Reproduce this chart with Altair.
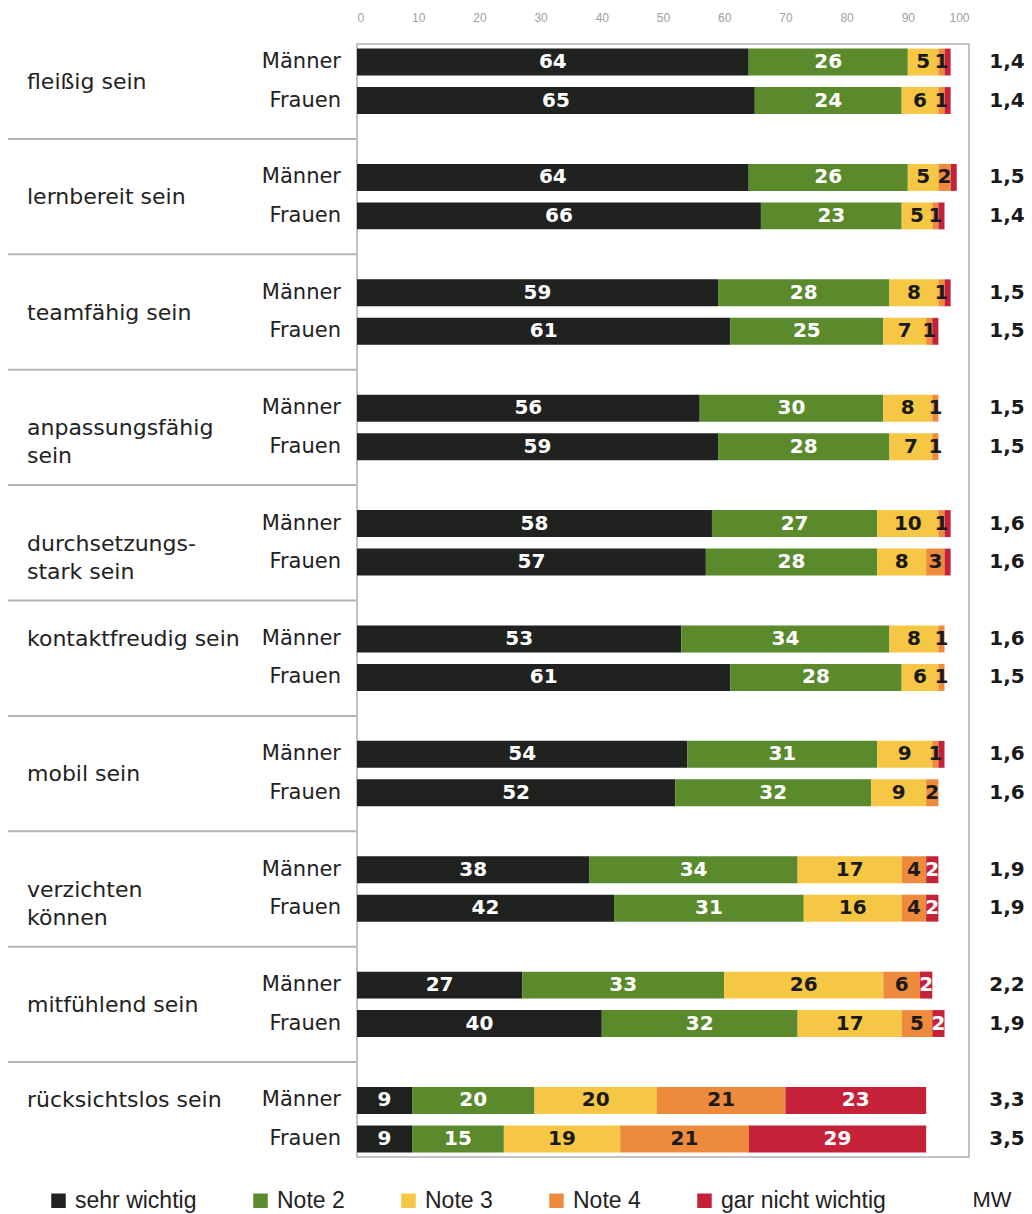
import altair as alt
import pandas as pd

# ---------------- data ----------------
groups = ["fleißig sein", "lernbereit sein", "teamfähig sein", "anpassungsfähig sein",
          "durchsetzungsstark sein", "kontaktfreudig sein", "mobil sein",
          "verzichten können", "mitfühlend sein", "rücksichtslos sein"]
group_labels = ["fleißig sein", "lernbereit sein", "teamfähig sein", "anpassungsfähig\nsein",
                "durchsetzungs-\nstark sein", "kontaktfreudig sein", "mobil sein",
                "verzichten\nkönnen", "mitfühlend sein", "rücksichtslos sein"]
labels_on_maenner_row = ["kontaktfreudig sein", "rücksichtslos sein"]
sexes = ["Männer", "Frauen"]
cats = ["sehr wichtig", "Note 2", "Note 3", "Note 4", "gar nicht wichtig"]
tick_values = [0, 10, 20, 30, 40, 50, 60, 70, 80, 90, 100]

m_sehr = [64, 64, 59, 56, 58, 53, 54, 38, 27, 9]
m_note2 = [26, 26, 28, 30, 27, 34, 31, 34, 33, 20]
m_note3 = [5, 5, 8, 8, 10, 8, 9, 17, 26, 20]
m_note4 = [1, 2, 1, 1, 1, 1, 1, 4, 6, 21]
m_gar = [1, 1, 1, 0, 1, 0, 1, 2, 2, 23]

f_sehr = [65, 66, 61, 59, 57, 61, 52, 42, 40, 9]
f_note2 = [24, 23, 25, 28, 28, 28, 32, 31, 32, 15]
f_note3 = [6, 5, 7, 7, 8, 6, 9, 16, 17, 19]
f_note4 = [1, 1, 1, 1, 3, 1, 2, 4, 5, 21]
f_gar = [1, 1, 1, 0, 1, 0, 0, 2, 2, 29]

mw_m = ["1,4", "1,5", "1,5", "1,5", "1,6", "1,6", "1,6", "1,9", "2,2", "3,3"]
mw_f = ["1,4", "1,4", "1,5", "1,5", "1,6", "1,5", "1,6", "1,9", "1,9", "3,5"]

# ---------------- styles ----------------
colors = ["#1f221f", "#5a8a2c", "#f6c744", "#ee8a3c", "#c5223a"]
label_colors = ["#ffffff", "#ffffff", "#1a1a1a", "#1a1a1a", "#ffffff"]
W, H = 612, 1113

series = {"Männer": [m_sehr, m_note2, m_note3, m_note4, m_gar],
          "Frauen": [f_sehr, f_note2, f_note3, f_note4, f_gar]}
mw = {"Männer": mw_m, "Frauen": mw_f}

row_domain = []
for i in range(len(groups)):
    row_domain += [f"{i}|Männer", f"{i}|Frauen"]
    if i < len(groups) - 1:
        row_domain.append(f"{i}|gap")

bar_rows, sex_rows, mw_rows = [], [], []
for i, g in enumerate(groups):
    for s in sexes:
        key = f"{i}|{s}"
        sex_rows.append({"key": key, "sex": s})
        mw_rows.append({"key": key, "mw": mw[s][i]})
        for c, cat in enumerate(cats):
            v = series[s][c][i]
            bar_rows.append({"key": key, "group": g, "sex": s, "cat": cat, "order": c,
                             "value": v, "lc": label_colors[c],
                             "show": bool(v > 0 and not (cat == "gar nicht wichtig" and v < 2))})
bars_df = pd.DataFrame(bar_rows)
sex_df = pd.DataFrame(sex_rows)
mw_df = pd.DataFrame(mw_rows)
cat_center_df = pd.DataFrame([{"key": f"{i}|Männer", "label": group_labels[i]}
                              for i, g in enumerate(groups) if g not in labels_on_maenner_row])
cat_top_df = pd.DataFrame([{"key": f"{i}|Männer", "label": group_labels[i]}
                           for i, g in enumerate(groups) if g in labels_on_maenner_row])
sep_df = pd.DataFrame({"key": [k for k in row_domain if k.endswith("gap")]})

xscale = alt.Scale(domain=[0, 100], nice=False, zero=True)
yscale = alt.Scale(domain=row_domain, paddingInner=0.3, paddingOuter=0.12)
Y = alt.Y("key:N", scale=yscale, axis=None)
xaxis = alt.Axis(orient="top", values=tick_values, ticks=False, domain=False,
                 grid=False, title=None, labelColor="#a0a0a0", labelFontSize=12,
                 labelFont="Liberation Sans", labelPadding=20)

bars = alt.Chart(bars_df).mark_bar().encode(
    x=alt.X("value:Q", stack="zero", scale=xscale, axis=xaxis),
    y=Y,
    color=alt.Color("cat:N", scale=alt.Scale(domain=cats, range=colors),
                    legend=alt.Legend(orient="none", legendX=-310, legendY=1145,
                                      direction="horizontal", title=None, symbolType="square",
                                      symbolSize=210, symbolStrokeWidth=0, labelFontSize=23,
                                      labelFont="Liberation Sans", labelColor="#222222",
                                      labelLimit=400, columnPadding=52, labelOffset=5)),
    order=alt.Order("order:Q"),
)

seg_labels = alt.Chart(bars_df).transform_stack(
    stack="value", groupby=["key"], as_=["s0", "s1"],
    sort=[alt.SortField("order", order="ascending")]
).transform_calculate(mid="(datum.s0 + datum.s1) / 2").transform_filter("datum.show").mark_text(
    font="DejaVu Sans", fontWeight="bold", fontSize=20, baseline="middle"
).encode(
    x=alt.X("mid:Q", scale=xscale, axis=xaxis),
    y=Y,
    text=alt.Text("value:Q", format="d"),
    color=alt.Color("lc:N", scale=None),
)

sex_text = alt.Chart(sex_df).mark_text(
    align="right", baseline="middle", font="DejaVu Sans", fontSize=21, color="#222222"
).encode(x=alt.value(-16), y=Y, text="sex:N")

cat_center = alt.Chart(cat_center_df).mark_text(
    align="left", baseline="middle", font="DejaVu Sans", fontSize=22, color="#222222",
    lineBreak="\n", lineHeight=28, dy=20
).encode(x=alt.value(-330), y=Y, text="label:N")

cat_top = alt.Chart(cat_top_df).mark_text(
    align="left", baseline="middle", font="DejaVu Sans", fontSize=22, color="#222222"
).encode(x=alt.value(-330), y=Y, text="label:N")

seps = alt.Chart(sep_df).mark_rule(color="#b4b4b4", strokeWidth=2).encode(
    x=alt.value(-349), x2=alt.value(-1), y=Y)

mw_text = alt.Chart(mw_df).mark_text(
    align="center", baseline="middle", font="DejaVu Sans", fontWeight="bold", fontSize=20,
    color="#1a1a1a"
).encode(x=alt.value(650), y=Y, text="mw:N")

mw_title = alt.Chart(pd.DataFrame({"t": ["MW"]})).mark_text(
    align="center", baseline="middle", font="Liberation Sans", fontSize=22, color="#222222"
).encode(x=alt.value(635), y=alt.value(1156), text="t:N")

chart = alt.layer(bars, seg_labels, seps, sex_text, cat_center, cat_top, mw_text, mw_title).properties(
    width=W, height=H,
    autosize=alt.AutoSizeParams(type="none"),
    padding={"left": 357, "top": 44, "right": 1032 - 357 - W, "bottom": 1214 - 44 - H},
    background="white",
).configure_view(stroke="#b0b0b0", strokeWidth=1.5)

chart.save("out.html", embed_options={"renderer": "svg", "actions": False})
